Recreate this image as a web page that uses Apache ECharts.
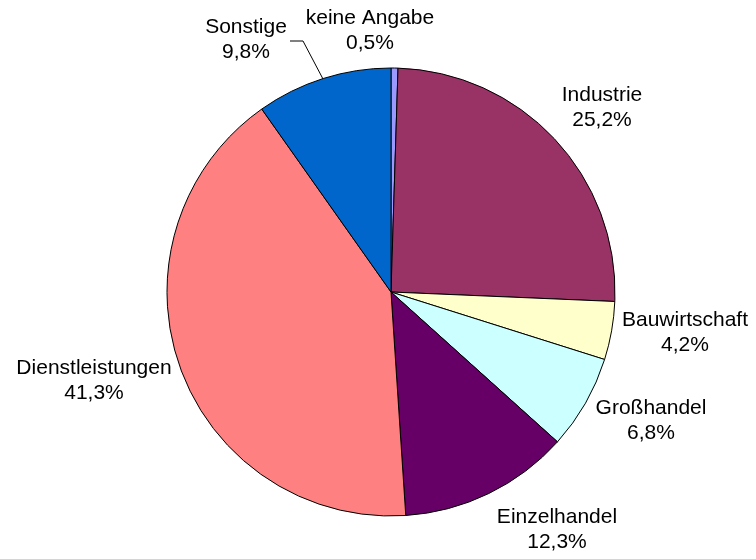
<!DOCTYPE html>
<html>
<head>
<meta charset="utf-8">
<script src="https://cdn.jsdelivr.net/npm/echarts@6/dist/echarts.min.js"></script>
<style>
  html, body { margin: 0; padding: 0; background: #fff; }
  #chart { width: 756px; height: 559px; }
</style>
</head>
<body>
<div id="chart"></div>
<script>
const categories = ['keine Angabe', 'Industrie', 'Bauwirtschaft', 'Großhandel', 'Einzelhandel', 'Dienstleistungen', 'Sonstige'];
const shares = [0.5, 25.2, 4.2, 6.8, 12.3, 41.3, 9.8];
const colors = ['#9999FF', '#993366', '#FFFFCC', '#CCFFFF', '#660066', '#FF8080', '#0066CC'];

// label centres, placed like the original
const labelPos = [[370, 31], [602, 108], [685, 333], [651, 421], [557, 530], [94, 381], [246, 40]];

const chart = echarts.init(document.getElementById('chart'));

chart.setOption({
    animation: false,
    series: [{
        type: 'pie',
        center: [391, 292],
        radius: 224,
        startAngle: 90,
        clockwise: true,
        avoidLabelOverlap: false,
        itemStyle: { borderColor: '#000', borderWidth: 1 },
        label: {
            show: true,
            formatter: (p) => p.name + '\n' + p.value.toFixed(1).replace('.', ',') + '%',
            fontFamily: 'Liberation Sans, Arial, sans-serif',
            fontSize: 21,
            lineHeight: 25,
            color: '#000',
            align: 'center'
        },
        labelLine: { show: false },
        labelLayout: (params) => {
            const pos = labelPos[params.dataIndex];
            const res = { x: pos[0], y: pos[1], align: 'center', verticalAlign: 'middle' };
            if (params.dataIndex === 6) {
                res.labelLinePoints = [[323, 79], [303, 41], [290, 41]];
            }
            return res;
        },
        data: categories.map((name, i) => ({
            name: name,
            value: shares[i],
            itemStyle: { color: colors[i] },
            labelLine: i === 6 ? { show: true, lineStyle: { color: '#000', width: 1 } } : { show: false }
        }))
    }]
});
</script>
</body>
</html>
